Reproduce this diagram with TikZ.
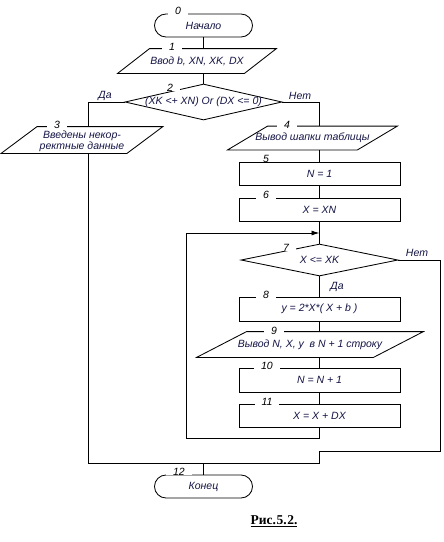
\documentclass[tikz,border=0pt]{standalone}
\usepackage{fontspec}
\setmainfont{Liberation Sans}
\newfontfamily\capfont{Liberation Serif}
\usetikzlibrary{shapes.geometric,arrows.meta}
\definecolor{txt}{RGB}{20,20,70}
\newcommand\ioshape[2]{\draw ([xshift=#2]#1.north west) -- ([xshift=#2]#1.north east) -- ([xshift=-#2]#1.south east) -- ([xshift=-#2]#1.south west) -- cycle;}
\begin{document}
\begin{tikzpicture}[x=1pt,y=-1pt, line width=0.85pt,
 every node/.style={font=\fontsize{10.5}{11.5}\selectfont\itshape, text=txt, inner sep=0pt},
 proc/.style={draw, minimum width=161pt, minimum height=23pt},
 term/.style={draw, rounded corners=11.5pt, minimum width=98pt, minimum height=23pt},
 decision/.style={draw, diamond, minimum width=157pt, minimum height=32pt},
 num/.style={fill=white, text=black, inner xsep=7pt, inner ysep=0.3pt},
 ans/.style={text=txt},
 arr/.style={-{Latex[length=8pt,width=5pt]}}]
\useasboundingbox (0,0) rectangle (444,542);
\fill[white] (0,0) rectangle (444,542);

% shapes
\node[term] (t0) at (203.5,25.5) {Начало};
\node[minimum width=126pt, minimum height=24pt] (p1) at (197,61) {Ввод b, XN, XK, DX};
\ioshape{p1}{16pt}
\node[decision, minimum height=36pt] (d2) at (203.5,102) {};
\node (d2t) at (d2.center) {(XK <+ XN) Or (DX <= 0)};
\node[minimum width=125pt, minimum height=26pt] (p3) at (82,140) {};
\ioshape{p3}{18pt}
\node[align=center] (p3t) at (82,141.5) {Введены некор-\\ректные данные};
\node[minimum width=129pt, minimum height=23pt] (p4) at (312.5,138) {Вывод шапки таблицы};
\ioshape{p4}{20pt}
\node[proc] (b5) at (319.5,173.5) {N = 1};
\node[proc] (b6) at (319.5,209.5) {X = XN};
\node[decision] (d7) at (319.5,260) {};
\node (d7t) at (d7.center) {X <= XK};
\node[proc, minimum height=24pt] (b8) at (319.5,309) {y = 2*X*( X + b )};
\node[minimum width=176pt, minimum height=25pt] (p9) at (310,344.5) {Вывод N, X, y\ \ в N + 1 строку};
\ioshape{p9}{25pt}
\node[proc, minimum height=24pt] (b10) at (319.5,380) {N = N + 1};
\node[proc] (b11) at (319.5,415.5) {X = X + DX};
\node[term] (t12) at (203.5,486.5) {Конец};

% coordinates
\coordinate (lpL) at (186,438);
\coordinate (j7) at (319.5,233);
\coordinate (r1) at (440,451);
\coordinate (r2) at (319.5,463);

% connectors
\draw (t0.south) -- (t0.south |- p1.north);
\draw (p1.south -| d2.north) -- (d2.north);
\draw (d2.west) -| ([xshift=6pt]p3.north);
\draw (d2.east) -| (p4.north -| b5.north);
\draw (p4.south -| b5.north) -- (b5.north);
\draw (b5.south) -- (b6.north);
\draw (b6.south) -- (d7.north);
\draw (d7.south) -- (b8.north);
\draw (b8.south) -- (b8.south |- p9.north);
\draw (p9.south -| b10.north) -- (b10.north);
\draw (b10.south) -- (b11.north);
\draw[arr] (b11.south) |- (lpL) |- (j7);
\draw (d7.east) -| (r1) -| (r2);
\draw ([xshift=6pt]p3.south) |- (r2);
\draw (t12.north |- r2) -- (t12.north);

% answers
\node[ans] (da1) at (105,96) {Да};
\node[ans] (net1) at (300,96) {Нет};
\node[ans] (net2) at (417,253) {Нет};
\node[ans] (da2) at (337,287) {Да};

% numbers
\node[num] (n0) at (178,11) {0};
\node[num] (n1) at (172,47) {1};
\node[num] (n2) at (170,87.5) {2};
\node[num] (n3) at (57,124.5) {3};
\node[num] (n4) at (287,125) {4};
\node[num] (n5) at (266,158.5) {5};
\node[num] (n6) at (266,195) {6};
\node[num] (n7) at (286,247.5) {7};
\node[num] (n8) at (266,295) {8};
\node[num] (n9) at (274,330.5) {9};
\node[num] (n10) at (267,366) {10};
\node[num] (n11) at (267,402) {11};
\node[num] (n12) at (179,471.5) {12};

% caption
\node[font=\capfont\bfseries\fontsize{13.5}{14}\selectfont, text=black] (cap) at (274,521) {\underline{Рис.\kern0.6pt5.\kern0.6pt2.}};
\end{tikzpicture}
\end{document}
